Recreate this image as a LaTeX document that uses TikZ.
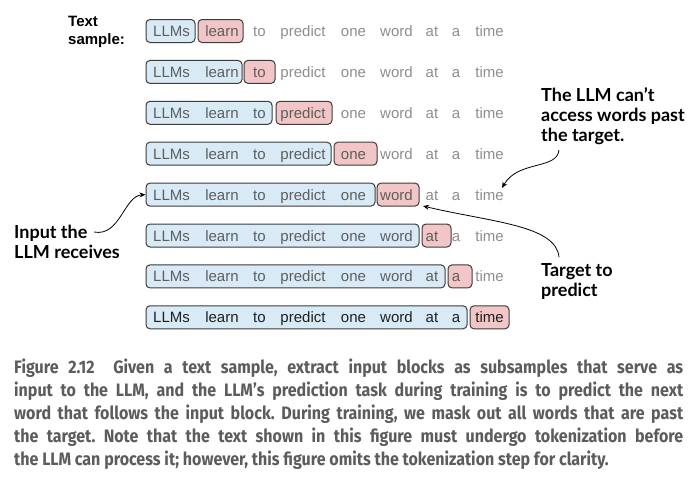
\documentclass[tikz,border=0pt]{standalone}
\usepackage{fontspec}
\setmainfont{Liberation Sans}
\newfontfamily\notefont{Lato}
\newfontfamily\capfont{Fira Sans}[FakeStretch=0.89]
\usetikzlibrary{arrows.meta}

\definecolor{inblue}{HTML}{D7EAF5}
\definecolor{tgtred}{HTML}{F2C6C6}
\definecolor{boxline}{HTML}{3C3C3C}
\definecolor{wordin}{HTML}{5E5E5E}
\definecolor{wordout}{HTML}{8E8E8E}
\definecolor{captiongrey}{HTML}{5C5C5C}

\tikzset{
  inputbox/.style={draw=boxline, fill=inblue, rounded corners=4pt, line width=1pt,
    minimum height=23pt, inner sep=0pt},
  targetbox/.style={draw=boxline, fill=tgtred, rounded corners=4pt, line width=1pt,
    minimum height=23pt, inner sep=0pt},
  word/.style={anchor=base, inner sep=0pt, font=\fontsize{15}{18}\selectfont},
  note/.style={anchor=north west, inner sep=0pt, align=left,
    font=\notefont\bfseries\fontsize{18}{20}\selectfont},
  callout/.style={line width=0.8pt, -{Stealth[length=6pt, width=5pt]}},
}

% One training example: input block, target block and the words of the sample.
% #1 row, #2 centre y, #3 input right edge, #4 target left edge, #5 target right edge,
% #6 colour of the boxed words
\newcommand\samplerow[6]{%
  \pgfmathsetmacro\bw{#3-146}%
  \pgfmathsetmacro\bx{(#3+146)/2}%
  \pgfmathsetmacro\tw{#5-#4}%
  \pgfmathsetmacro\tx{(#5+#4)/2}%
  \node[inputbox, minimum width=\bw pt] (in#1) at (\bx,#2) {};
  \node[targetbox, minimum width=\tw pt] (tg#1) at (\tx,#2) {};
  \foreach \w/\x [count=\i] in {LLMs/171.5, learn/222, to/259.5, predict/303,
      one/353.5, word/396.5, at/432, a/456, time/489.5}{
    \ifnum\i>\numexpr#1+1\relax
      \node[word, text=wordout] (w#1-\i) at (\x,#2+5.5) {\w};
    \else
      \node[word, text=#6] (w#1-\i) at (\x,#2+5.5) {\w};
    \fi
  }
}

\begin{document}
\begin{tikzpicture}[x=1pt, y=-1pt]
  \useasboundingbox[fill=white] (0,0) rectangle (697,477);

  \samplerow{1}{31}{195}{198}{243}{wordin}
  \samplerow{2}{71.9}{242}{244}{275}{wordin}
  \samplerow{3}{112.8}{272}{276}{332}{wordin}
  \samplerow{4}{153.7}{331}{334}{377}{wordin}
  \samplerow{5}{194.6}{375}{377}{419}{wordin}
  \samplerow{6}{235.5}{419}{422}{451}{wordin}
  \samplerow{7}{276.4}{445}{448}{472}{wordin}
  \samplerow{8}{317.3}{467}{470}{509}{black!88}

  % labels
  \node[anchor=north west, inner sep=0pt, align=left,
        font=\bfseries\fontsize{15}{18}\selectfont] (sample) at (68,16) {Text\\sample:};
  \node[note] (input) at (14,225) {Input the\\LLM receives};
  \node[note] (past) at (541,87) {The LLM can’t\\access words past\\the target.};
  \node[note] (target) at (541,263) {Target to\\predict};

  % callout arrows
  \coordinate (input-end) at (94,232);
  \coordinate (past-end) at (559,150);
  \coordinate (target-end) at (559,257);
  \coordinate (past-tip) at (502,188);
  \coordinate (target-tip) at (423,206);
  \draw[callout] (input-end) .. controls (120,237) and (124,196) .. (in5.west);
  \draw[callout] (past-end) .. controls (557,170) and (518,160) .. (past-tip);
  \draw[callout] (target-end) .. controls (556,225) and (490,222) .. (target-tip);

  % caption
  \node[anchor=north west, inner sep=0pt, text width=669pt, align=justify,
        font=\capfont\bfseries\fontsize{18}{23}\selectfont, text=captiongrey] (caption) at (14,359)
  {\frenchspacing\parfillskip=0pt Figure 2.12\hspace{0.5em} Given a text sample, extract input blocks as subsamples that serve as\linebreak
   input to the LLM, and the LLM’s prediction task during training is to predict the next\linebreak
   word that follows the input block. During training, we mask out all words that are past\linebreak
   the target. Note that the text shown in this figure must undergo tokenization before\linebreak
   the LLM can process it; however, this figure omits the tokenization step for clarity.};
\end{tikzpicture}
\end{document}
